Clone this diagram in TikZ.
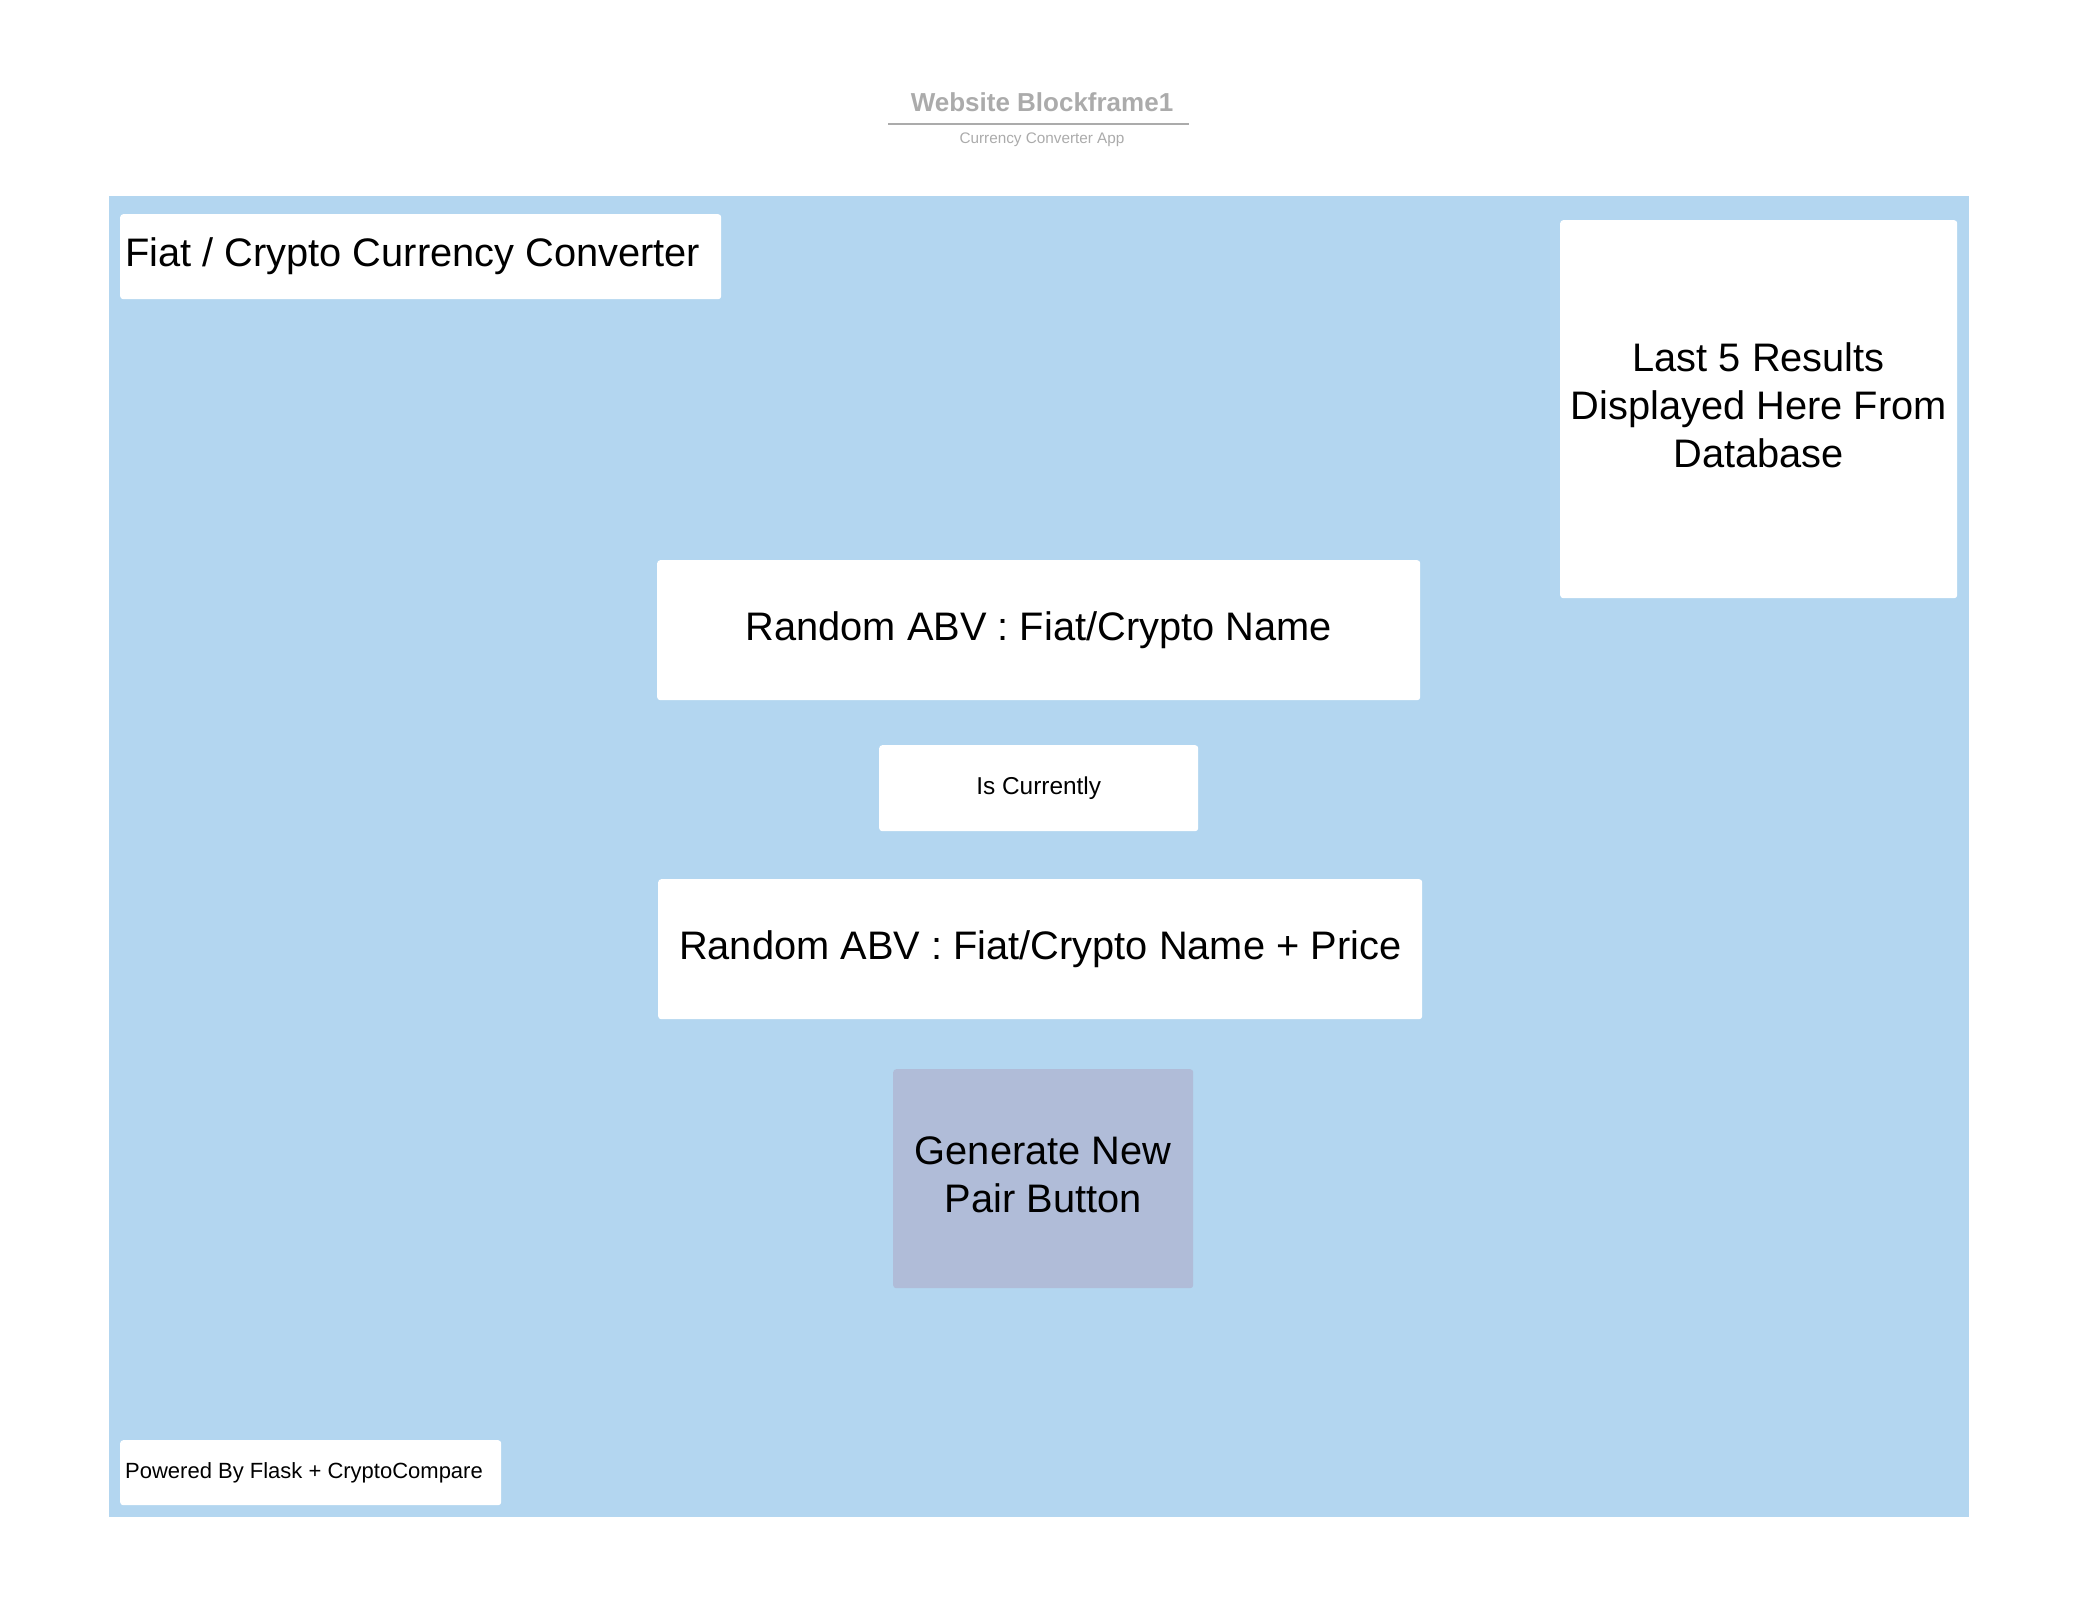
\documentclass[tikz,border=0pt]{standalone}
\usepackage{fontspec}
\setmainfont{Liberation Sans}

\definecolor{pageblue}{HTML}{B3D6F0}
\definecolor{buttonblue}{HTML}{B0BCD8}
\definecolor{titlegray}{HTML}{ABABAB}

\tikzset{
  panel/.style={fill=white, rounded corners=3pt, inner sep=0pt, anchor=north west, align=center},
  bigtext/.style={font=\fontsize{39.8}{47.8}\selectfont},
  smalltext/.style={font=\fontsize{22}{26}\selectfont},
}

\begin{document}
\begin{tikzpicture}[x=1pt,y=-1pt]
\useasboundingbox (0,0) rectangle (2080,1600);

% header
\node[titlegray, font=\bfseries\fontsize{26}{30}\selectfont] (title) at (1042,102) {Website Blockframe1};
\draw[titlegray, line width=2pt] (888,124) -- (1189,124);
\node[titlegray, font=\fontsize{15.3}{18}\selectfont] (subtitle) at (1042,139.5) {Currency Converter App};

% page area
\fill[pageblue] (109,196) rectangle (1969,1517);

\node[panel, bigtext, minimum width=601pt, minimum height=85pt, text width=591pt, inner xsep=5pt, align=flush left] (heading) at (120,214) {Fiat / Crypto Currency Converter};
\node[panel, bigtext, text depth=8pt, minimum width=397pt, minimum height=378pt] (history) at (1560,220) {Last 5 Results\\Displayed Here From\\Database};

\node[panel, bigtext, minimum width=763pt, minimum height=140pt] (base) at (657,560) {Random ABV : Fiat/Crypto Name};
\node[panel, font=\fontsize{24.4}{29}\selectfont, minimum width=319pt, minimum height=86pt] (current) at (879,745) {Is Currently};
\node[panel, bigtext, minimum width=764pt, minimum height=140pt] (quote) at (658,879) {Random ABV : Fiat/Crypto Name + Price};

\node[panel, bigtext, text depth=8pt, fill=buttonblue, minimum width=300pt, minimum height=219pt] (button) at (893,1069) {Generate New\\Pair Button};

\node[panel, smalltext, minimum width=381pt, minimum height=65pt, text width=371pt, inner xsep=5pt, align=flush left] (footer) at (120,1440) {Powered By Flask + CryptoCompare};

\end{tikzpicture}
\end{document}
